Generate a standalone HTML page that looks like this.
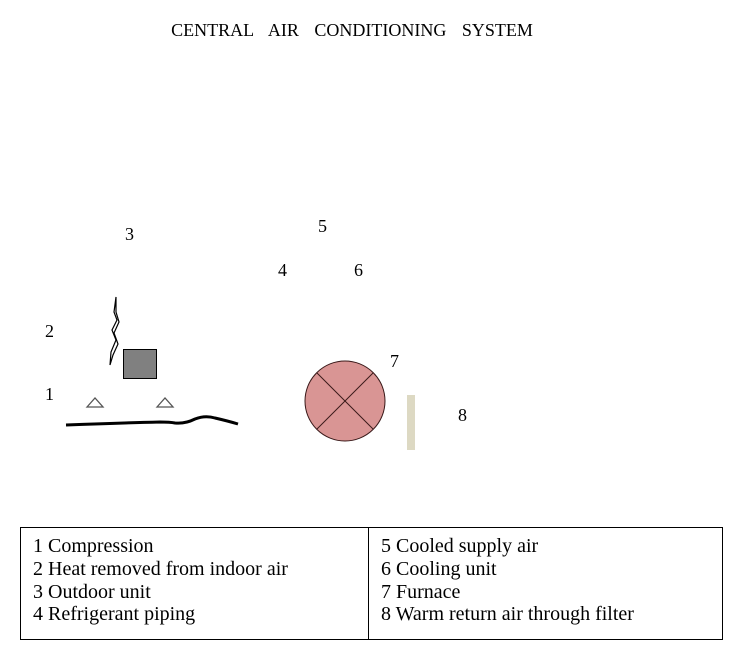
<!DOCTYPE html>
<html><head><meta charset="utf-8"><style>
html,body{margin:0;padding:0;background:#fff;}
svg{display:block;}
text{font-family:"Liberation Serif",serif;fill:#000;}
</style></head><body>
<svg width="744" height="658" viewBox="0 0 744 658" xmlns="http://www.w3.org/2000/svg">
<text x="352" y="36" font-size="18" text-anchor="middle" word-spacing="11">CENTRAL AIR CONDITIONING SYSTEM</text>
<g font-size="18">
<text x="125" y="240">3</text>
<text x="318" y="232">5</text>
<text x="278" y="276">4</text>
<text x="354" y="276">6</text>
<text x="45" y="337">2</text>
<text x="390" y="367">7</text>
<text x="45" y="400">1</text>
<text x="458" y="421">8</text>
</g>
<path d="M116 297 L114 312 L117 320 L112 330 L116 340 L111 352 L110 365 L113 355 L118 344 L114 333 L119 322 L116 312 Z" fill="#fff" stroke="#000" stroke-width="1.2"/>
<rect x="123.5" y="349.5" width="33" height="29" fill="#808080" stroke="#000" stroke-width="1"/>
<polygon points="87,407 95,398 103,407" fill="#fff" stroke="#555" stroke-width="1.3"/>
<polygon points="157,407 165,398 173,407" fill="#fff" stroke="#555" stroke-width="1.3"/>
<path d="M66 425 Q120 423 160 422 Q170 422 175 423 Q185 424 195 419 Q205 415 215 418 Q228 421 238 424" fill="none" stroke="#000" stroke-width="3"/>
<circle cx="345" cy="401" r="40" fill="#d99594" stroke="#3a1a1a" stroke-width="1"/>
<line x1="317" y1="373" x2="373" y2="429" stroke="#3a1a1a" stroke-width="1"/>
<line x1="373" y1="373" x2="317" y2="429" stroke="#3a1a1a" stroke-width="1"/>
<rect x="407" y="395" width="8" height="55" fill="#ddd9c3"/>
<rect x="20.5" y="527.5" width="702" height="112" fill="none" stroke="#000" stroke-width="1"/>
<line x1="368.5" y1="527" x2="368.5" y2="640" stroke="#000" stroke-width="1"/>
<g font-size="20">
<text x="33" y="552">1 Compression</text>
<text x="33" y="575">2 Heat removed from indoor air</text>
<text x="33" y="598">3 Outdoor unit</text>
<text x="33" y="620">4 Refrigerant piping</text>
<text x="381" y="552">5 Cooled supply air</text>
<text x="381" y="575">6 Cooling unit</text>
<text x="381" y="598">7 Furnace</text>
<text x="381" y="620">8 Warm return air through filter</text>
</g>
</svg>
</body></html>
